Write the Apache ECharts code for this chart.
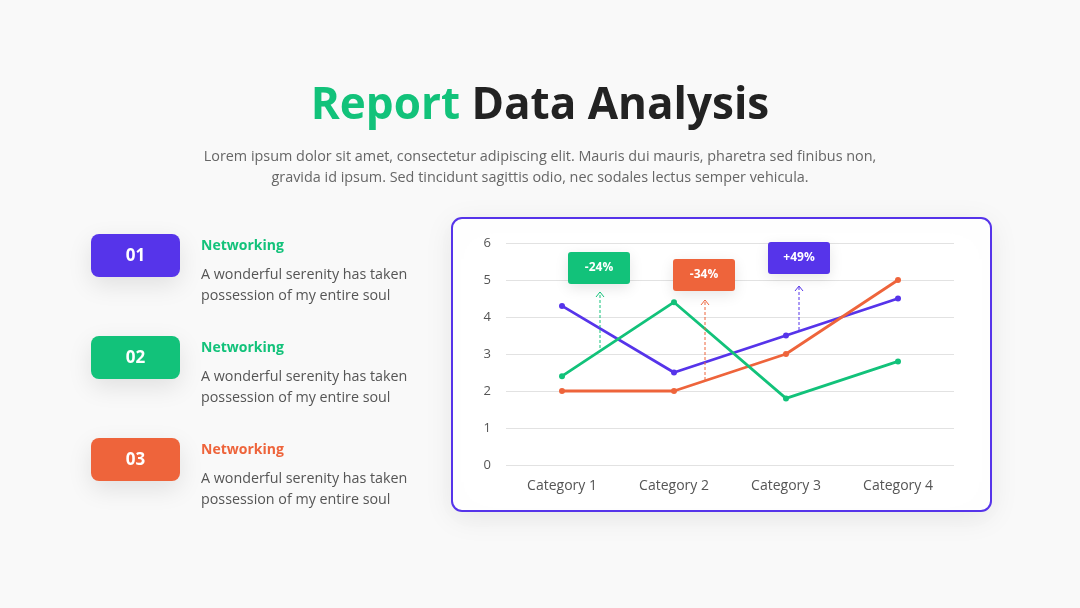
<!DOCTYPE html>
<html><head><meta charset="utf-8">
<script src="https://cdn.jsdelivr.net/npm/echarts@6/dist/echarts.min.js"></script>
<style>html,body{margin:0;padding:0;background:#f9f9f9}#c{width:1080px;height:608px}</style>
</head><body><div id="c"></div>
<script>
const categories = ['Category 1','Category 2','Category 3','Category 4'];
const purpleValues = [4.3, 2.5, 3.5, 4.5];
const greenValues  = [2.4, 4.4, 1.8, 2.8];
const orangeValues = [2.0, 2.0, 3.0, 5.0];
const yTicks = [0, 1, 2, 3, 4, 5, 6];
const badgeLabels = ['-24%', '-34%', '+49%'];
const itemNumbers = ['01', '02', '03'];
const itemTitles = ['Networking', 'Networking', 'Networking'];
const itemText = ['A wonderful serenity has taken\npossession of my entire soul',
                  'A wonderful serenity has taken\npossession of my entire soul',
                  'A wonderful serenity has taken\npossession of my entire soul'];
const titleA = 'Report', titleB = 'Data Analysis';
const subtitle = 'Lorem ipsum dolor sit amet, consectetur adipiscing elit. Mauris dui mauris, pharetra sed finibus non,\ngravida id ipsum. Sed tincidunt sagittis odio, nec sodales lectus semper vehicula.';

const PURPLE = '#5634EA', GREEN = '#12C27A', ORANGE = '#EE643B';
const FONT = '"Open Sans", sans-serif';
const chart = echarts.init(document.getElementById('c'), null, {renderer: 'canvas'});

const graphics = [];
// title
graphics.push({type:'text', x:540, y:106, style:{
  text:'{g|' + titleA + '\u00a0}{d|' + titleB + '}', align:'center', verticalAlign:'middle',
  rich:{g:{fill:GREEN, fontSize:44, fontWeight:'bold', fontFamily:FONT},
        d:{fill:'#222', fontSize:44, fontWeight:'bold', fontFamily:FONT}}}});
graphics.push({type:'text', x:540, y:146, style:{text:subtitle, fill:'#666',
  font:'14.4px '+FONT, lineHeight:21, align:'center', verticalAlign:'top'}});

// chart panel
graphics.push({type:'rect', z:-10, shape:{x:452,y:218,width:539,height:293,r:10},
  style:{fill:'#fff', stroke:PURPLE, lineWidth:2, shadowBlur:30, shadowColor:'rgba(0,0,0,0.08)', shadowOffsetY:6}});

// left list
const itemColors = [PURPLE, GREEN, ORANGE];
const titleColors = [GREEN, GREEN, ORANGE];
const tops = [234, 336, 438];
for (let i = 0; i < 3; i++) {
  graphics.push({type:'rect', shape:{x:91,y:tops[i],width:89,height:43,r:8},
    style:{fill:itemColors[i], shadowBlur:24, shadowColor:'rgba(0,0,0,0.10)', shadowOffsetY:8}});
  graphics.push({type:'text', x:135.5, y:tops[i]+22, style:{text:itemNumbers[i], fill:'#fff',
    font:'bold 17px '+FONT, align:'center', verticalAlign:'middle'}});
  graphics.push({type:'text', x:201, y:tops[i]+12, style:{text:itemTitles[i], fill:titleColors[i],
    font:'bold 14px '+FONT, align:'left', verticalAlign:'middle'}});
  graphics.push({type:'text', x:201, y:tops[i]+30, style:{text:itemText[i], fill:'#555',
    font:'14.3px '+FONT, lineHeight:21, align:'left', verticalAlign:'top'}});
}

// annotations
const ann = [
  {box:[568,252], color:GREEN, ax:600, y1:348, y2:292},
  {box:[673,259], color:ORANGE, ax:705, y1:380, y2:300},
  {box:[768,242], color:PURPLE, ax:799, y1:330, y2:286}
];
ann.forEach((a, i) => {
  graphics.push({type:'rect', z:20, shape:{x:a.box[0],y:a.box[1],width:62,height:32,r:3},
    style:{fill:a.color, shadowBlur:14, shadowColor:'rgba(0,0,0,0.10)', shadowOffsetY:4}});
  graphics.push({type:'text', z:21, x:a.box[0]+31, y:a.box[1]+16, style:{text:badgeLabels[i], fill:'#fff',
    font:'bold 12px '+FONT, align:'center', verticalAlign:'middle'}});
  graphics.push({type:'line', z:20, shape:{x1:a.ax,y1:a.y1,x2:a.ax,y2:a.y2},
    style:{stroke:a.color, lineWidth:1, lineDash:[3,2]}});
  graphics.push({type:'polyline', z:20, shape:{points:[[a.ax-4,a.y2+5],[a.ax,a.y2],[a.ax+4,a.y2+5]]},
    style:{stroke:a.color, lineWidth:1, fill:null}});
});

function lineSeries(name, data, color) {
  return {name, type:'line', data, symbol:'circle', symbolSize:6, z:5,
    lineStyle:{color, width:2.8}, itemStyle:{color}};
}

chart.setOption({
  backgroundColor:'#f9f9f9',
  animation:false,
  grid:{left:506, right:126, top:243, bottom:143},
  xAxis:{type:'category', data:categories, boundaryGap:true,
    axisLine:{show:false}, axisTick:{show:false},
    axisLabel:{color:'#555', fontSize:14, fontFamily:FONT, margin:14}},
  yAxis:{type:'value', min:yTicks[0], max:yTicks[yTicks.length-1], interval:1,
    axisLine:{show:false}, axisTick:{show:false},
    axisLabel:{color:'#555', fontSize:13, fontFamily:FONT, margin:15},
    splitLine:{lineStyle:{color:'#e2e2e2'}}},
  series:[lineSeries('Purple', purpleValues, PURPLE),
          lineSeries('Orange', orangeValues, ORANGE),
          lineSeries('Green', greenValues, GREEN)],
  graphic:graphics
});
</script></body></html>
